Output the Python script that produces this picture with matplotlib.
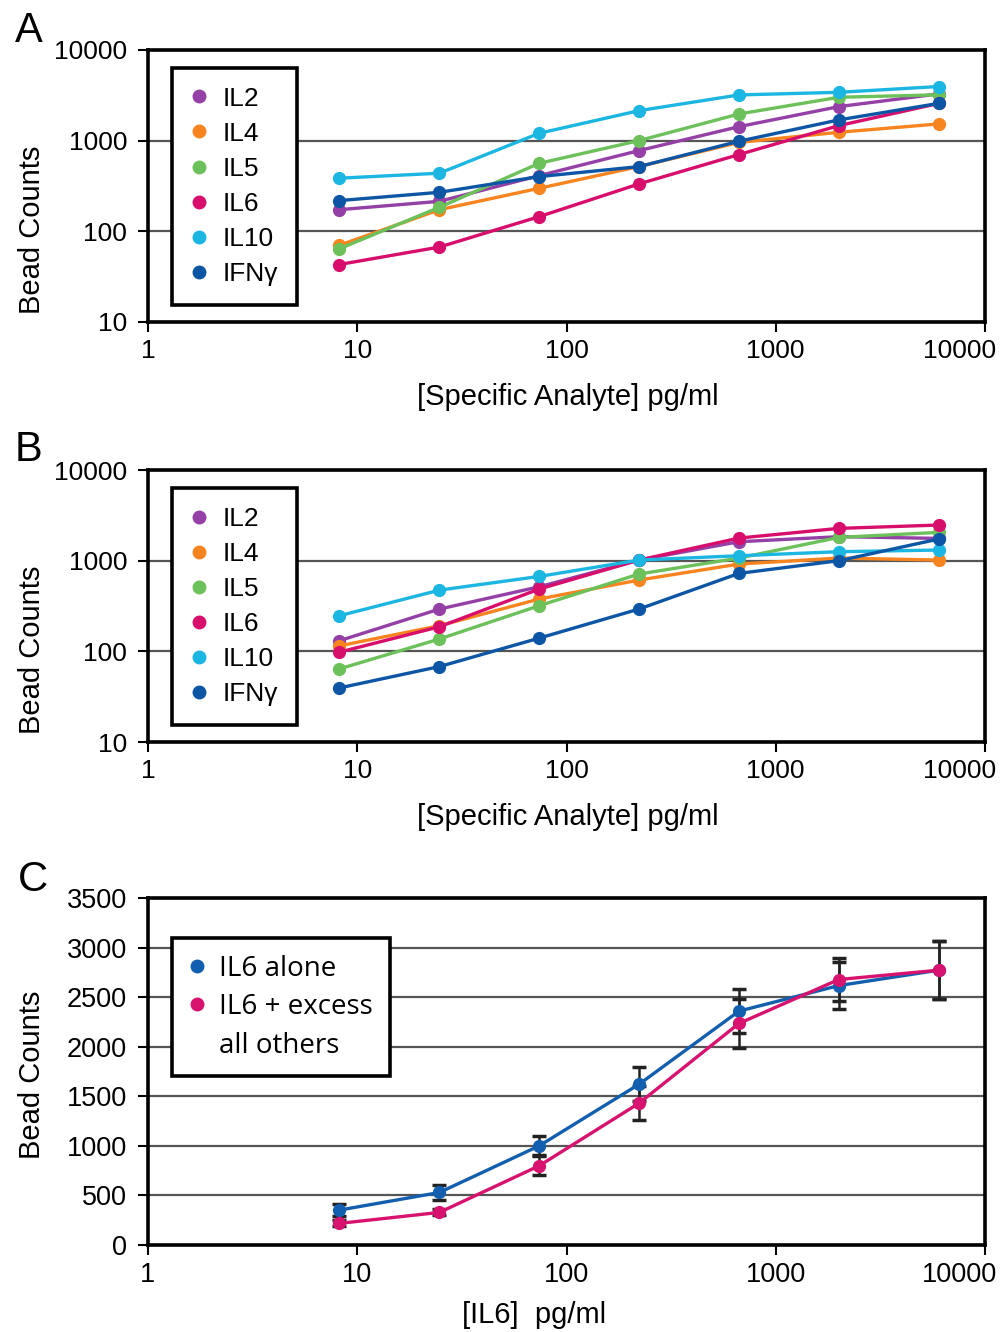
import matplotlib
matplotlib.use('Agg')
import matplotlib.pyplot as plt
from matplotlib.lines import Line2D
from matplotlib.transforms import ScaledTranslation
from matplotlib.ticker import NullLocator, FixedLocator, FixedFormatter

plt.rcParams['font.family'] = ['Liberation Sans', 'DejaVu Sans']

# ---------------- data ----------------
conc = [8.2, 24.7, 74, 222, 667, 2000, 6000]
names = ['IL2', 'IL4', 'IL5', 'IL6', 'IL10', 'IFNγ']
colors = ['#9440A6', '#F7841F', '#6DC15A', '#D80E6C', '#1CB6E2', '#0D56A6']

# Panel A (single analyte)
a_il2 = [173, 214, 411, 776, 1426, 2371, 3275]
a_il4 = [70, 173, 298, 517, 955, 1236, 1527]
a_il5 = [64, 184, 562, 1000, 1967, 3006, 3200]
a_il6 = [43, 67, 145, 333, 702, 1463, 2570]
a_il10 = [385, 437, 1205, 2140, 3190, 3410, 3950]
a_ifng = [218, 269, 401, 517, 984, 1692, 2573]

# Panel B (multiplex)
b_il2 = [131, 293, 516, 1017, 1620, 1842, 1763]
b_il4 = [115, 192, 378, 612, 919, 1070, 1017]
b_il5 = [64, 137, 319, 713, 1070, 1808, 2054]
b_il6 = [98, 187, 487, 1017, 1778, 2274, 2474]
b_il10 = [247, 474, 671, 1017, 1135, 1257, 1312]
b_ifng = [39.5, 68, 140, 293, 725, 1000, 1733]

# Panel C
c_alone = [352, 530, 1000, 1621, 2359, 2617, 2772]
c_alone_err = [60, 75, 95, 170, 225, 240, 290]
c_excess = [218, 329, 799, 1430, 2235, 2678, 2772]
c_excess_err = [30, 30, 95, 170, 245, 218, 290]
c_names = ['IL6 alone', 'IL6 + excess', 'all others']
c_colors = ['#135FAF', '#D7136F']

log_ticks = [1, 10, 100, 1000, 10000]
log_labels = ['1', '10', '100', '1000', '10000']
ylog_ticks = [10, 100, 1000, 10000]
ylog_labels = ['10', '100', '1000', '10000']
c_yticks = [0, 500, 1000, 1500, 2000, 2500, 3000, 3500]

TICK_FS = 19
LAB_FS = 21

fig = plt.figure(figsize=(10, 13.32), dpi=100)


def style_axes(ax, tick_fs=TICK_FS):
    for s in ax.spines.values():
        s.set_linewidth(2.6)
        s.set_color('black')
    ax.set_xscale('log')
    ax.set_xlim(1, 10000)
    ax.xaxis.set_major_locator(FixedLocator(log_ticks))
    ax.xaxis.set_major_formatter(FixedFormatter(log_labels))
    ax.xaxis.set_minor_locator(NullLocator())
    ax.tick_params(axis='both', direction='out', length=7, width=1.5,
                   labelsize=tick_fs, colors='black')
    ax.tick_params(axis='x', pad=5)
    ax.tick_params(axis='y', pad=8)
    ax.yaxis.grid(True, color='#555555', linewidth=1.6)
    ax.set_axisbelow(True)
    # last x tick label sits shifted left, inside the figure
    last = ax.xaxis.get_major_ticks()[-1].label1
    last.set_transform(last.get_transform() + ScaledTranslation(-0.25, 0, fig.dpi_scale_trans))


def log_panel(rect, series, letter, ly):
    ax = fig.add_axes(rect)
    style_axes(ax)
    ax.set_yscale('log')
    ax.set_ylim(10, 10000)
    ax.yaxis.set_major_locator(FixedLocator(ylog_ticks))
    ax.yaxis.set_major_formatter(FixedFormatter(ylog_labels))
    ax.yaxis.set_minor_locator(NullLocator())
    for vals, c in zip(series, colors):
        ax.plot(conc, vals, color=c, lw=2.4, marker='o', ms=8.5, zorder=3)
    handles = [Line2D([], [], ls='none', marker='o', ms=9, color=c) for c in colors]
    leg = ax.legend(handles, names, loc='upper left', bbox_to_anchor=(0.029, 0.935),
                    fontsize=TICK_FS, frameon=True, fancybox=False, handlelength=0.6,
                    handletextpad=0.6, labelspacing=0.42, borderpad=0.72,
                    borderaxespad=0.0, edgecolor='black', framealpha=1)
    leg.get_frame().set_linewidth(2.6)
    ax.set_xlabel('[Specific Analyte] pg/ml', fontsize=LAB_FS, va='top')
    ax.xaxis.set_label_coords(0.502, -0.224)
    ax.set_ylabel('Bead Counts', fontsize=LAB_FS)
    ax.yaxis.set_label_coords(-0.122, 0.338)
    fig.text(0.015, ly, letter, fontsize=30, va='center', ha='left')
    return ax


log_panel([0.148, 0.7583, 0.837, 0.2042],
          [a_il2, a_il4, a_il5, a_il6, a_il10, a_ifng], 'A', 0.977)
log_panel([0.148, 0.4429, 0.837, 0.2042],
          [b_il2, b_il4, b_il5, b_il6, b_il10, b_ifng], 'B', 0.662)

# Panel C
axc = fig.add_axes([0.148, 0.0653, 0.837, 0.2605])
style_axes(axc, tick_fs=19.5)
axc.set_ylim(0, 3500)
axc.set_yticks(c_yticks)
axc.set_yticklabels([str(v) for v in c_yticks])
for vals, err, c in [(c_alone, c_alone_err, c_colors[0]), (c_excess, c_excess_err, c_colors[1])]:
    axc.errorbar(conc, vals, yerr=err, color=c, lw=2.4, marker='o', ms=8.5,
                 ecolor='#222222', elinewidth=1.8, capsize=5, capthick=2.5, zorder=3)
handles = [Line2D([], [], ls='none', marker='o', ms=9, color=c) for c in c_colors]
handles.append(Line2D([], [], ls='none', marker=None))
legc = axc.legend(handles, c_names, loc='upper left', bbox_to_anchor=(0.029, 0.885),
                  prop={'family': ['Open Sans', 'DejaVu Sans'], 'size': 20},
                  frameon=True, fancybox=False, handlelength=0.6, handletextpad=0.5,
                  labelspacing=0.38, borderpad=0.6, borderaxespad=0.0,
                  edgecolor='black', framealpha=1)
legc.get_frame().set_linewidth(2.6)
axc.set_xlabel('[IL6]  pg/ml', fontsize=LAB_FS, va='top')
axc.xaxis.set_label_coords(0.461, -0.160)
axc.set_ylabel('Bead Counts', fontsize=LAB_FS)
axc.yaxis.set_label_coords(-0.122, 0.49)
fig.text(0.018, 0.339, 'C', fontsize=30, va='center', ha='left')

fig.savefig('out.png', dpi=100)
